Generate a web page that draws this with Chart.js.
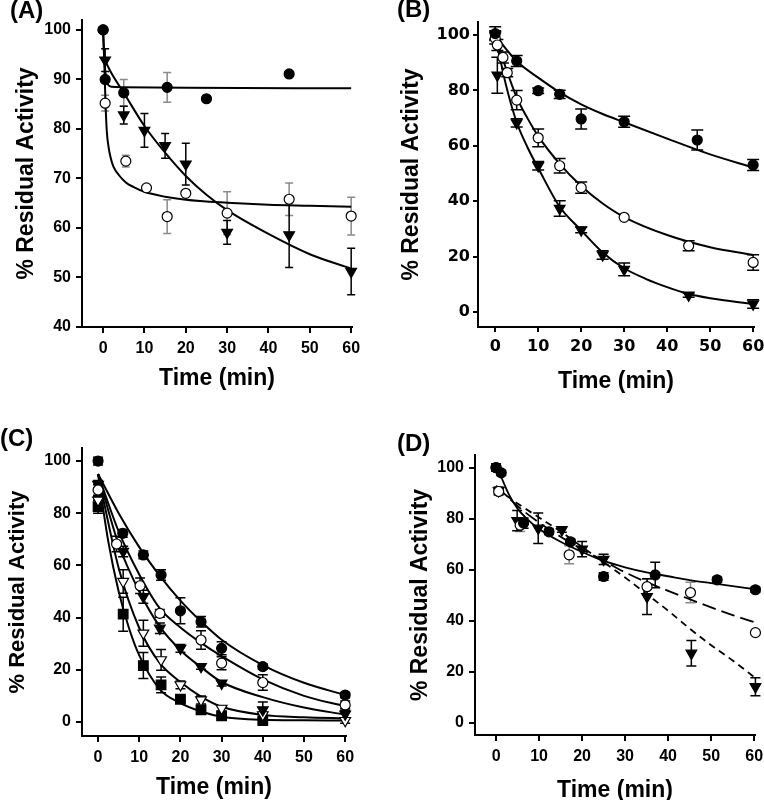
<!DOCTYPE html>
<html>
<head>
<meta charset="utf-8">
<title>Residual Activity</title>
<script src="https://cdn.jsdelivr.net/npm/chart.js@4"></script>
<style>
  html, body { margin: 0; padding: 0; background: #fff; overflow: hidden; }
  #wrap { position: relative; width: 764px; height: 800px; }
  .panel { position: absolute; width: 382px; height: 400px; }
</style>
</head>
<body>
<div id="wrap">
  <div class="panel" style="left:0;top:0"><canvas id="chartA" width="382" height="400"></canvas></div>
  <div class="panel" style="left:382px;top:0"><canvas id="chartB" width="382" height="400"></canvas></div>
  <div class="panel" style="left:0;top:400px"><canvas id="chartC" width="382" height="400"></canvas></div>
  <div class="panel" style="left:382px;top:400px"><canvas id="chartD" width="382" height="400"></canvas></div>
</div>
<script>
// ---- tick labels ----
const xTicks = [0, 10, 20, 30, 40, 50, 60];
const yTicksA = [40, 50, 60, 70, 80, 90, 100];
const yTicks = [0, 20, 40, 60, 80, 100];

// ---- panel A ----
const aFilledX = [0, 0.5, 5, 15.5, 25, 45];
const aFilledY = [100, 90, 87.3, 88.4, 86.1, 91.1];
const aFilledErr = [0, 0, 2.7, 3, 0, 0];
const aOpenX = [0, 0.5, 5.5, 10.5, 15.5, 20, 30, 45, 60];
const aOpenY = [100, 85.2, 73.5, 68.1, 62.3, 67, 63, 65.8, 62.4];
const aOpenErr = [0, 1.6, 1.2, 0, 3.4, 0, 4.3, 3.3, 3.8];
const aTriX = [0.5, 5, 10, 15, 20, 30, 45, 60];
const aTriY = [93.9, 82.8, 79.7, 76.6, 72.9, 59.1, 58.6, 51.2];
const aTriErr = [2.3, 1.8, 3.4, 2.5, 4.2, 2.4, 6.6, 4.7];
const aFitFilledX = [0, 0.25, 0.5, 0.75, 1, 1.5, 2, 5, 20, 60];
const aFitFilledY = [100, 95, 92, 90, 89.2, 88.7, 88.5, 88.4, 88.3, 88.2];
const aFitOpenX = [0, 0.3, 0.6, 0.9, 1.3, 1.8, 2.5, 3.8, 5.5, 7.3, 10, 15, 20, 30, 40, 50, 60];
const aFitOpenY = [100, 93, 85, 79.5, 76.5, 74.3, 72.4, 70.7, 69.2, 68.3, 67.3, 66.3, 65.7, 65.1, 64.7, 64.5, 64.3];
const aFitTriX = [0.2, 2, 5, 10, 15, 20, 25, 30, 40, 50, 60];
const aFitTriY = [94.3, 91.3, 87.3, 80.6, 75.2, 70.5, 66.7, 63.6, 58.8, 54.7, 51.8];

// ---- panel B ----
const bFilledX = [0, 5, 10, 15, 20, 30, 47, 60];
const bFilledY = [100.5, 90.6, 79.9, 78.6, 69.7, 68.7, 62.1, 53.1];
const bFilledErr = [2.5, 2, 1, 1.5, 3.6, 2, 3.6, 2];
const bOpenX = [0, 0.5, 1.8, 2.8, 5, 10, 15, 20, 30, 45, 60];
const bOpenY = [98.8, 96.4, 91.9, 86.4, 76.5, 62.9, 52.8, 44.9, 34.2, 23.9, 17.9];
const bOpenErr = [2, 2, 2, 1.5, 3.5, 3.2, 2.6, 2, 0, 1.8, 2.8];
const bTriX = [0, 0.5, 5, 10, 15, 20, 25, 30, 45, 60];
const bTriY = [100, 85.5, 68.3, 52.8, 37.4, 29.6, 20.6, 15.4, 6.1, 2.9];
const bTriErr = [1.5, 6.5, 1.5, 1.5, 2.8, 1, 1.5, 2.3, 0.8, 1.5];
const bFitFilledX = [0, 2.5, 5, 10, 15, 20, 25, 30, 40, 50, 60];
const bFitFilledY = [100, 95, 90.5, 84.6, 79.3, 75, 71.5, 68.5, 62.6, 56.9, 52.2];
const bFitOpenX = [0, 2.5, 5, 7.5, 10, 15, 20, 25, 30, 40, 50, 60];
const bFitOpenY = [100, 88, 77.5, 70, 63.5, 53.5, 45.5, 39.2, 34.3, 27.8, 23.4, 20.6];
const bFitTriX = [0, 2.5, 5, 7.5, 10, 15, 20, 25, 30, 35, 40, 45, 50, 60];
const bFitTriY = [100, 82, 68.5, 59.5, 52, 38, 29.5, 21.5, 15.8, 12, 9, 6.5, 5, 2.9];

// ---- panel C ----
const cFilledX = [0, 6, 11, 15.3, 20, 25, 30, 40, 60];
const cFilledY = [100, 72.3, 64, 56.3, 42.6, 38.4, 28.2, 21.2, 10.3];
const cFilledErr = [1.5, 1.5, 1.5, 2, 5, 2, 2.5, 1, 1];
const cOpenX = [0, 4.5, 10.2, 15, 25, 30, 40, 60];
const cOpenY = [88.9, 68.2, 52.2, 41.6, 31.4, 22.5, 15.1, 6.5];
const cOpenErr = [2, 3, 3, 1.5, 3.5, 2.5, 3, 1.5];
const cTriX = [0, 6.1, 11, 15, 20, 25, 30, 40, 60];
const cTriY = [91, 65.3, 48, 35.9, 28.2, 21.2, 14.8, 4.6, 3];
const cTriErr = [1.5, 2, 2.5, 2, 1.5, 1, 1, 3, 1.5];
const cOpenTriX = [0, 6.1, 11, 15.3, 20, 25, 30, 40, 60];
const cOpenTriY = [85, 53.8, 34, 23.8, 14.2, 8.4, 5.2, 2.7, 0.5];
const cOpenTriErr = [1.5, 4.5, 5, 4, 1.5, 1.5, 1, 1, 1];
const cSquareX = [0, 6.1, 11, 15.3, 20, 25, 30, 40];
const cSquareY = [82.5, 41.3, 21.6, 14.2, 8.7, 4.6, 2.3, 0.5];
const cSquareErr = [2.5, 6.5, 5, 3, 1, 1.5, 1, 1];
const cFitX = [0, 5, 10, 15, 20, 25, 30, 40, 50, 60];
const cFitFilledY = [95, 80, 67, 56, 46.5, 38.5, 31.5, 21.8, 15, 10.3];
const cFitOpenY = [95, 73, 56.5, 43.5, 36.2, 30.3, 25.2, 16.3, 10, 6];
const cFitTriY = [95, 68, 50, 36.5, 27.5, 21, 15.3, 9.5, 5.5, 2.8];
const cFitOpenTriY = [95, 59, 36, 22.5, 15.3, 9.7, 5.8, 2.7, 1.8, 1.4];
const cFitSquareX = [0, 2.5, 5, 7.5, 10, 15, 20, 25, 30, 40, 50, 60];
const cFitSquareY = [95, 69, 50, 36, 25.5, 12.5, 7.2, 4, 2, 0.8, 0.6, 0.5];

// ---- panel D ----
const dFilledX = [0, 1.2, 6.4, 12.3, 17.3, 25, 37, 51.4, 60.3];
const dFilledY = [100.1, 98, 78.3, 74.9, 71, 57.4, 58, 56.1, 52.2];
const dFilledErr = [1.5, 1, 2, 1, 1, 1.5, 5, 1, 1];
const dOpenX = [0, 0.6, 5.6, 17, 35.1, 45.2, 60.3];
const dOpenY = [100, 90.7, 77.5, 65.9, 53.4, 51.1, 35.4];
const dOpenErr = [0, 1.5, 2.5, 3.5, 3, 4, 0];
const dTriX = [0.6, 4.9, 9.8, 15.3, 20, 25, 35.1, 45.4, 60.3];
const dTriY = [91, 79.3, 76.3, 75.7, 68.1, 64.1, 49.5, 27.3, 14.2];
const dTriErr = [1.5, 4, 6, 1, 3, 2, 7, 5, 3.5];
const dFitFilledX = [0, 1, 3, 5, 7.5, 10, 15, 20, 25, 30, 35, 40, 45, 50, 55, 60];
const dFitFilledY = [100, 97, 89.5, 84, 79.5, 76, 71, 67, 63.5, 61, 59, 57.5, 56, 54.8, 53.6, 52.5];
const dFitOpenX = [0, 5, 10, 15, 20, 25, 30, 35, 40, 45, 50, 55, 60];
const dFitOpenY = [93, 85, 78.5, 73, 68, 63.5, 59, 55.2, 51.8, 48.5, 45.3, 42.3, 39.5];
const dFitTriX = [0, 5, 10, 15, 20, 25, 30, 35, 40, 45, 50, 55, 60];
const dFitTriY = [92, 86, 80.5, 75, 69, 63, 57, 50.5, 44, 37, 30.5, 24.5, 18];

// ---- helpers ----
const FONT = '"Liberation Sans", Arial, sans-serif';
const GREY = '#8a8a8a';
const pts = (xs, ys) => xs.map((x, i) => ({ x: x, y: ys[i] }));

const MARKS = {
  fc: { pointStyle: 'circle', radius: 5, bg: '#000', rot: 0 },
  oc: { pointStyle: 'circle', radius: 5, bg: '#fff', rot: 0 },
  ft: { pointStyle: 'triangle', radius: 6.2, bg: '#000', rot: 180 },
  ot: { pointStyle: 'triangle', radius: 6.2, bg: '#fff', rot: 180 },
  fs: { pointStyle: 'rect', radius: 6.8, bg: '#000', rot: 0 }
};

function markers(xs, ys, err, kind, errColor, cap) {
  const m = MARKS[kind];
  return {
    data: pts(xs, ys),
    err: err,
    errColor: errColor || '#000',
    capWidth: cap || 9,
    showLine: false,
    clip: false,
    pointStyle: m.pointStyle,
    pointRadius: m.radius,
    pointRotation: m.rot,
    pointBackgroundColor: m.bg,
    pointBorderColor: '#000',
    pointBorderWidth: 1.2,
    pointHoverRadius: m.radius
  };
}

function curve(xs, ys, dash, width) {
  return {
    data: pts(xs, ys),
    showLine: true,
    clip: false,
    pointRadius: 0,
    pointHoverRadius: 0,
    borderColor: '#000',
    borderWidth: width || 2,
    borderDash: dash || [],
    cubicInterpolationMode: 'monotone',
    fill: false
  };
}

const errorBars = {
  id: 'errorBars',
  beforeDatasetsDraw(chart) {
    const ctx = chart.ctx;
    const xs = chart.scales.x, ys = chart.scales.y;
    chart.data.datasets.forEach((ds) => {
      if (!ds.err) return;
      ctx.save();
      ctx.strokeStyle = ds.errColor;
      ctx.lineWidth = 1.5;
      const half = ds.capWidth / 2;
      ds.data.forEach((p, j) => {
        const e = ds.err[j];
        if (!e) return;
        const px = xs.getPixelForValue(p.x);
        const top = ys.getPixelForValue(p.y + e);
        const bot = ys.getPixelForValue(p.y - e);
        ctx.beginPath();
        ctx.moveTo(px, top); ctx.lineTo(px, bot);
        ctx.moveTo(px - half, top); ctx.lineTo(px + half, top);
        ctx.moveTo(px - half, bot); ctx.lineTo(px + half, bot);
        ctx.stroke();
      });
      ctx.restore();
    });
  }
};

const panelLabel = {
  id: 'panelLabel',
  afterDraw(chart, args, opts) {
    if (!opts.text) return;
    const ctx = chart.ctx;
    ctx.save();
    ctx.font = 'bold 24px ' + FONT;
    ctx.fillStyle = '#000';
    ctx.textBaseline = 'top';
    ctx.textAlign = 'left';
    ctx.fillText(opts.text, opts.x, opts.y);
    ctx.restore();
  }
};

function axes(p) {
  const grid = { display: true, drawOnChartArea: false, drawTicks: true, tickLength: p.tickLen || 6, color: '#000', lineWidth: 2 };
  const border = { display: true, color: '#000', width: 2 };
  const tickFont = { family: p.tickFamily || FONT, size: p.tickSize, weight: 'bold' };
  return {
    x: {
      type: 'linear', min: p.xMin, max: p.xMax,
      afterBuildTicks: (s) => { s.ticks = xTicks.map((v) => ({ value: v })); },
      afterFit: (s) => { s.height = p.xH; s.paddingLeft = 0; s.paddingRight = 0; },
      grid: grid, border: border,
      ticks: { color: '#000', font: tickFont, padding: p.xPad, maxRotation: 0, autoSkip: false },
      title: { display: true, text: 'Time (min)', color: '#000',
        font: { family: FONT, size: 23, weight: 'bold' }, padding: { top: 0, bottom: p.xTitlePad } }
    },
    y: {
      type: 'linear', min: p.yMin, max: p.yMax,
      afterBuildTicks: (s) => { s.ticks = p.yTicks.map((v) => ({ value: v })); },
      afterFit: (s) => { s.width = p.yW; s.paddingTop = 0; s.paddingBottom = 0; },
      grid: grid, border: border,
      ticks: { color: '#000', font: tickFont, padding: p.yPad, autoSkip: false },
      title: { display: true, text: '% Residual Activity', color: '#000',
        font: { family: FONT, size: p.yTitleSize || 23, weight: 'bold' }, padding: { top: p.yTitlePad, bottom: 0 } }
    }
  };
}

function makeChart(id, datasets, layoutPad, scaleOpts, label) {
  return new Chart(document.getElementById(id), {
    type: 'scatter',
    data: { datasets: datasets },
    options: {
      responsive: false,
      animation: false,
      layout: { padding: layoutPad },
      plugins: { legend: { display: false }, tooltip: { enabled: false }, panelLabel: label },
      scales: axes(scaleOpts)
    },
    plugins: [errorBars, panelLabel]
  });
}

// ---- panel A ----
makeChart('chartA', [
  markers(aFilledX, aFilledY, aFilledErr, 'fc', GREY, 8),
  markers(aOpenX, aOpenY, aOpenErr, 'oc', GREY, 8),
  markers(aTriX, aTriY, aTriErr, 'ft', '#000', 8),
  curve(aFitFilledX, aFitFilledY),
  curve(aFitOpenX, aFitOpenY),
  curve(aFitTriX, aFitTriY)
], { left: 0, top: 20, right: 30, bottom: 0 },
{ xMin: -5.1, xMax: 60.2, yMin: 40, yMax: 102, yTicks: yTicksA, xH: 73, yW: 82,
  tickSize: 16, xPad: 6, yPad: 5, xTitlePad: 8, yTitlePad: 13 },
{ text: '(A)', x: 10, y: -1 });

// ---- panel B ----
makeChart('chartB', [
  markers(bFilledX, bFilledY, bFilledErr, 'fc', '#000', 12),
  markers(bOpenX, bOpenY, bOpenErr, 'oc', '#000', 12),
  markers(bTriX, bTriY, bTriErr, 'ft', '#000', 12),
  curve(bFitFilledX, bFitFilledY),
  curve(bFitOpenX, bFitOpenY),
  curve(bFitTriX, bFitTriY)
], { left: 0, top: 22, right: 10, bottom: 0 },
{ xMin: -4, xMax: 60.2, yMin: -5.4, yMax: 104.7, yTicks: yTicks, xH: 73, yW: 96,
  tickSize: 16, tickFamily: '"DejaVu Sans", sans-serif', tickLen: 5, xPad: 5, yPad: 3, xTitlePad: 5, yTitlePad: 16 },
{ text: '(B)', x: 15, y: -2 });

// ---- panel C ----
makeChart('chartC', [
  markers(cFilledX, cFilledY, cFilledErr, 'fc', '#000', 10),
  markers(cOpenX, cOpenY, cOpenErr, 'oc', '#000', 10),
  markers(cTriX, cTriY, cTriErr, 'ft', '#000', 10),
  markers(cOpenTriX, cOpenTriY, cOpenTriErr, 'ot', '#000', 10),
  markers(cSquareX, cSquareY, cSquareErr, 'fs', '#000', 10),
  curve(cFitX, cFitFilledY),
  curve(cFitX, cFitOpenY),
  curve(cFitX, cFitTriY),
  curve(cFitX, cFitOpenTriY),
  curve(cFitSquareX, cFitSquareY)
], { left: 0, top: 48, right: 36, bottom: 0 },
{ xMin: -3.9, xMax: 60.2, yMin: -5.4, yMax: 105, yTicks: yTicks, xH: 64, yW: 82,
  tickSize: 16, xPad: 6, yPad: 5, xTitlePad: -1, yTitlePad: 5, yTitleSize: 22 },
{ text: '(C)', x: 0, y: 27 });

// ---- panel D ----
makeChart('chartD', [
  markers(dFilledX, dFilledY, dFilledErr, 'fc', '#000', 10),
  markers(dOpenX, dOpenY, dOpenErr, 'oc', GREY, 10),
  markers(dTriX, dTriY, dTriErr, 'ft', '#000', 10),
  curve(dFitFilledX, dFitFilledY, [], 1.8),
  curve(dFitOpenX, dFitOpenY, [14, 6], 1.8),
  curve(dFitTriX, dFitTriY, [7, 5], 1.8)
], { left: 0, top: 55, right: 9, bottom: 0 },
{ xMin: -4.9, xMax: 60.2, yMin: -4.7, yMax: 105, yTicks: yTicks, xH: 65, yW: 93,
  tickSize: 16, xPad: 6, yPad: 5, xTitlePad: -4, yTitlePad: 25 },
{ text: '(D)', x: 15, y: 32 });
</script>
</body>
</html>
